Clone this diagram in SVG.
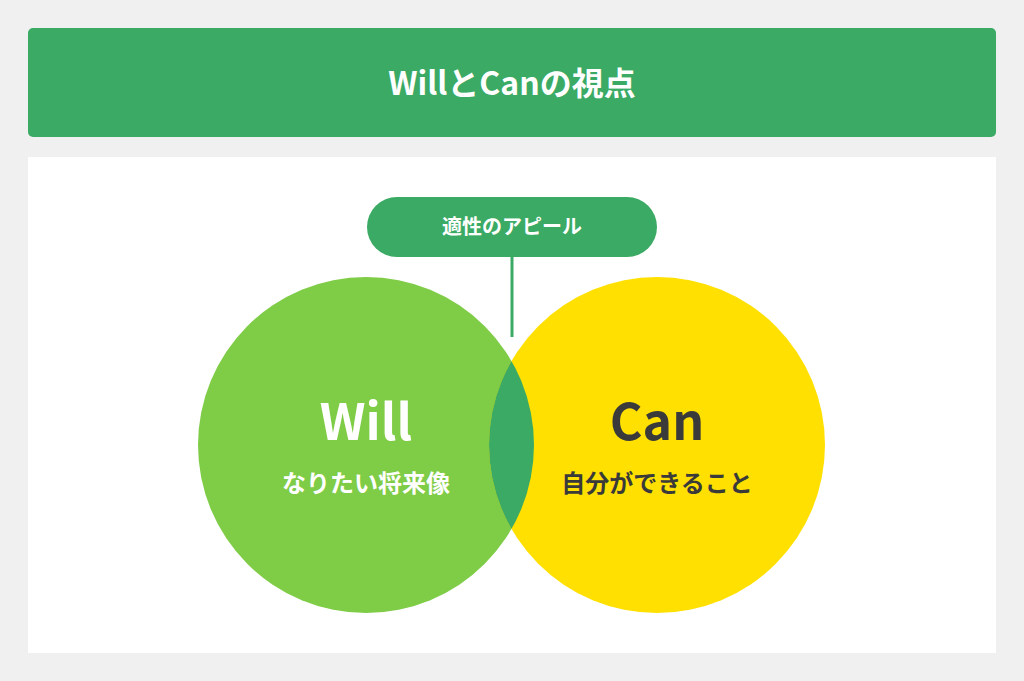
<svg xmlns="http://www.w3.org/2000/svg" width="1024" height="681" viewBox="0 0 1024 681">
<style>
text{font-family:"Noto Sans CJK JP","Noto Sans",sans-serif;font-weight:bold;text-anchor:middle}
.w{fill:#fff}.d{fill:#3a3a3a}
</style>
<defs><clipPath id="cy"><circle cx="657" cy="445" r="168"/></clipPath></defs>
<rect width="1024" height="681" fill="#f0f0f0"/>
<g id="header"><rect x="28" y="28" width="968" height="109" rx="5" fill="#3aaa64"/>
<text class="w" x="512" y="95" font-size="32">WillとCanの視点</text></g>
<rect x="28" y="157" width="968" height="496" fill="#fff"/>
<g id="connectors"><line x1="512" y1="257" x2="512" y2="337" stroke="#3aaa64" stroke-width="3"/></g>
<g id="will"><circle cx="366" cy="445" r="168" fill="#7fcc47"/></g>
<g id="can"><circle cx="657" cy="445" r="168" fill="#ffe000"/></g>
<g id="overlap"><circle cx="366" cy="445" r="168" fill="#3aaa64" clip-path="url(#cy)"/></g>
<g id="willtext"><text class="w" x="366" y="440" font-size="50">Will</text>
<text class="w" x="366" y="492" font-size="24">なりたい将来像</text></g>
<g id="cantext"><text class="d" x="657" y="440" font-size="50">Can</text>
<text class="d" x="657" y="492" font-size="24">自分ができること</text></g>
<g id="pill"><rect x="367" y="197" width="290" height="60" rx="30" fill="#3aaa64"/>
<text class="w" x="512" y="234" font-size="20">適性のアピール</text></g>
</svg>
